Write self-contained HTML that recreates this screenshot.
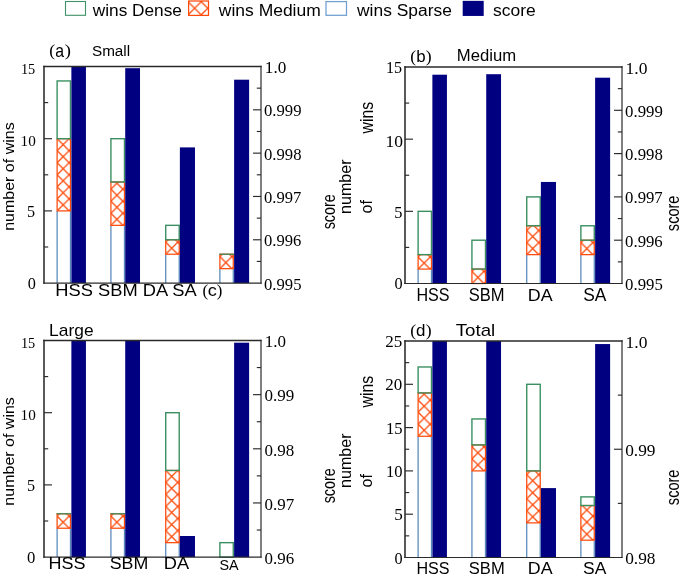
<!DOCTYPE html>
<html><head><meta charset="utf-8"><title>chart</title>
<style>html,body{margin:0;padding:0;background:#fff;}svg{display:block;will-change:transform;}</style>
</head><body>
<svg width="685" height="581" viewBox="0 0 685 581">
<rect width="685" height="581" fill="#fff"/>
<defs>
<pattern id="hx" patternUnits="userSpaceOnUse" width="12.05" height="12.05" x="0" y="0">
<path d="M0,0 L12.05,12.05 M0,12.05 L12.05,0" stroke="#ff4a0a" stroke-width="1.3" fill="none" stroke-linecap="square"/>
</pattern>
<pattern id="hx2" patternUnits="userSpaceOnUse" width="13.2" height="13.2" x="0" y="0">
<path d="M0,0 L13.2,13.2 M0,13.2 L13.2,0" stroke="#ff4a0a" stroke-width="1.3" fill="none" stroke-linecap="square"/>
</pattern>
</defs>
<rect x="65.5" y="1.5" width="20" height="13.8" fill="none" stroke="#3f9266" stroke-width="1.1"/>
<g transform="translate(188.0,14.9)"><rect x="0.6" y="-13.9" width="19.9" height="14.4" fill="url(#hx2)" stroke="#ff4a0a" stroke-width="1.25"/></g>
<rect x="326.0" y="1.6" width="20.5" height="13.7" fill="none" stroke="#6f9fd0" stroke-width="1.25"/>
<rect x="462.7" y="0.85" width="21.0" height="15.1" fill="#000080"/>
<text transform="translate(92.75,15.79) scale(1.0756,1)" font-family="'Liberation Sans', sans-serif" font-size="16.05" fill="#000">wins Dense</text>
<text transform="translate(218.85,15.79) scale(1.0892,1)" font-family="'Liberation Sans', sans-serif" font-size="16.05" fill="#000">wins Medium</text>
<text transform="translate(357.05,15.89) scale(1.0756,1)" font-family="'Liberation Sans', sans-serif" font-size="16.19" fill="#000">wins Sparse</text>
<text transform="translate(493.07,16.28) scale(1.0287,1)" font-family="'Liberation Sans', sans-serif" font-size="16.99" fill="#000">score</text>
<path d="M57.12,283.10 V210.90 M70.47,210.90 V283.10" fill="none" stroke="#5889bc" stroke-width="1.25"/>
<g transform="translate(57.12,210.90)"><rect x="0.00" y="-72.20" width="13.35" height="72.20" fill="url(#hx)" stroke="#ff4a0a" stroke-width="1.25"/></g>
<rect x="57.12" y="80.94" width="13.35" height="57.76" fill="none" stroke="#3b9062" stroke-width="1.4"/>
<rect x="71.38" y="66.50" width="14.55" height="216.60" fill="#000080"/>
<path d="M110.92,283.10 V225.34 M124.47,225.34 V283.10" fill="none" stroke="#5889bc" stroke-width="1.25"/>
<g transform="translate(110.92,225.34)"><rect x="0.00" y="-43.32" width="13.55" height="43.32" fill="url(#hx)" stroke="#ff4a0a" stroke-width="1.25"/></g>
<rect x="110.92" y="138.70" width="13.55" height="43.32" fill="none" stroke="#3b9062" stroke-width="1.4"/>
<rect x="125.22" y="68.20" width="14.80" height="214.90" fill="#000080"/>
<path d="M165.72,283.10 V254.22 M179.22,254.22 V283.10" fill="none" stroke="#5889bc" stroke-width="1.25"/>
<g transform="translate(165.72,254.22)"><rect x="0.00" y="-14.44" width="13.50" height="14.44" fill="url(#hx)" stroke="#ff4a0a" stroke-width="1.25"/></g>
<rect x="165.72" y="225.34" width="13.50" height="14.44" fill="none" stroke="#3b9062" stroke-width="1.4"/>
<rect x="179.88" y="147.40" width="15.10" height="135.70" fill="#000080"/>
<path d="M219.88,283.10 V268.66 M233.28,268.66 V283.10" fill="none" stroke="#5889bc" stroke-width="1.25"/>
<g transform="translate(219.88,268.66)"><rect x="0.00" y="-14.44" width="13.40" height="14.44" fill="url(#hx)" stroke="#ff4a0a" stroke-width="1.25"/></g>
<line x1="219.28" y1="254.22" x2="233.88" y2="254.22" stroke="#3b9062" stroke-width="1.3"/>
<rect x="234.12" y="79.70" width="15.00" height="203.40" fill="#000080"/>
<line x1="44.00" y1="65.75" x2="44.00" y2="283.70" stroke="#2a2a2a" stroke-width="1.55"/>
<line x1="43.25" y1="66.50" x2="261.60" y2="66.50" stroke="#2a2a2a" stroke-width="1.55"/>
<line x1="261.00" y1="65.75" x2="261.00" y2="283.70" stroke="#2a2a2a" stroke-width="1.2"/>
<line x1="43.25" y1="283.10" x2="261.60" y2="283.10" stroke="#2a2a2a" stroke-width="1.2"/>
<line x1="44.00" y1="210.90" x2="52.00" y2="210.90" stroke="#2a2a2a" stroke-width="1.15"/>
<line x1="44.00" y1="138.70" x2="52.00" y2="138.70" stroke="#2a2a2a" stroke-width="1.15"/>
<line x1="44.00" y1="247.00" x2="48.20" y2="247.00" stroke="#2a2a2a" stroke-width="1.15"/>
<line x1="44.00" y1="174.80" x2="48.20" y2="174.80" stroke="#2a2a2a" stroke-width="1.15"/>
<line x1="44.00" y1="102.60" x2="48.20" y2="102.60" stroke="#2a2a2a" stroke-width="1.15"/>
<line x1="253.00" y1="239.78" x2="261.00" y2="239.78" stroke="#2a2a2a" stroke-width="1.15"/>
<line x1="253.00" y1="196.46" x2="261.00" y2="196.46" stroke="#2a2a2a" stroke-width="1.15"/>
<line x1="253.00" y1="153.14" x2="261.00" y2="153.14" stroke="#2a2a2a" stroke-width="1.15"/>
<line x1="253.00" y1="109.82" x2="261.00" y2="109.82" stroke="#2a2a2a" stroke-width="1.15"/>
<line x1="256.80" y1="261.44" x2="261.00" y2="261.44" stroke="#2a2a2a" stroke-width="1.15"/>
<line x1="256.80" y1="218.12" x2="261.00" y2="218.12" stroke="#2a2a2a" stroke-width="1.15"/>
<line x1="256.80" y1="174.80" x2="261.00" y2="174.80" stroke="#2a2a2a" stroke-width="1.15"/>
<line x1="256.80" y1="131.48" x2="261.00" y2="131.48" stroke="#2a2a2a" stroke-width="1.15"/>
<line x1="256.80" y1="88.16" x2="261.00" y2="88.16" stroke="#2a2a2a" stroke-width="1.15"/>
<text transform="translate(49.36,56.30) scale(1.0266,1)" font-family="'Liberation Serif', serif" font-size="17.19" fill="#000">(</text>
<text transform="translate(55.28,56.57) scale(0.9014,1)" font-family="'Liberation Sans', sans-serif" font-size="17.53" fill="#000">a</text>
<text transform="translate(64.74,56.30) scale(1.0844,1)" font-family="'Liberation Serif', serif" font-size="17.19" fill="#000">)</text>
<text transform="translate(91.96,56.30) scale(1.0033,1)" font-family="'Liberation Sans', sans-serif" font-size="15.24" fill="#000">Small</text>
<text transform="translate(20.90,73.69) scale(0.9230,1)" font-family="'Liberation Serif', serif" font-size="15.52" fill="#000">15</text>
<text transform="translate(20.62,145.50) scale(0.9865,1)" font-family="'Liberation Serif', serif" font-size="15.41" fill="#000">10</text>
<text transform="translate(27.02,216.69) scale(0.9852,1)" font-family="'Liberation Serif', serif" font-size="16.39" fill="#000">5</text>
<text transform="translate(27.64,288.99) scale(1.0147,1)" font-family="'Liberation Serif', serif" font-size="16.00" fill="#000">0</text>
<text transform="translate(14.21,230.83) rotate(-90) scale(1.1650,1)" font-family="'Liberation Sans', sans-serif" font-size="13.74" fill="#000">number of wins</text>
<text transform="translate(264.85,73.10) scale(1.0144,1)" font-family="'Liberation Serif', serif" font-size="16.91" fill="#000">1.0</text>
<text transform="translate(264.03,116.41) scale(0.9684,1)" font-family="'Liberation Serif', serif" font-size="17.21" fill="#000">0.999</text>
<text transform="translate(264.03,159.73) scale(0.9673,1)" font-family="'Liberation Serif', serif" font-size="17.21" fill="#000">0.998</text>
<text transform="translate(264.03,203.05) scale(0.9640,1)" font-family="'Liberation Serif', serif" font-size="17.21" fill="#000">0.997</text>
<text transform="translate(264.03,246.37) scale(0.9640,1)" font-family="'Liberation Serif', serif" font-size="17.21" fill="#000">0.996</text>
<text transform="translate(264.03,289.69) scale(0.9684,1)" font-family="'Liberation Serif', serif" font-size="17.21" fill="#000">0.995</text>
<text transform="translate(334.87,229.35) rotate(-90) scale(0.7806,1)" font-family="'Liberation Sans', sans-serif" font-size="18.45" fill="#000">score</text>
<text transform="translate(55.24,295.68) scale(1.0895,1)" font-family="'Liberation Sans', sans-serif" font-size="16.82" fill="#000">HSS SBM DA SA</text>
<text transform="translate(202.49,295.87) scale(1.0002,1)" font-family="'Liberation Serif', serif" font-size="16.86" fill="#000">(</text>
<text transform="translate(207.78,295.98) scale(1.0795,1)" font-family="'Liberation Sans', sans-serif" font-size="16.80" fill="#000">c</text>
<text transform="translate(216.81,295.87) scale(0.9905,1)" font-family="'Liberation Serif', serif" font-size="16.86" fill="#000">)</text>
<path d="M418.12,283.50 V269.07 M431.48,269.07 V283.50" fill="none" stroke="#5889bc" stroke-width="1.25"/>
<g transform="translate(418.12,269.07)"><rect x="0.00" y="-14.43" width="13.35" height="14.43" fill="url(#hx)" stroke="#ff4a0a" stroke-width="1.25"/></g>
<rect x="418.12" y="211.33" width="13.35" height="43.30" fill="none" stroke="#3b9062" stroke-width="1.4"/>
<rect x="432.38" y="74.70" width="14.55" height="208.80" fill="#000080"/>
<g transform="translate(471.93,283.50)"><rect x="0.00" y="-14.43" width="13.55" height="14.43" fill="url(#hx)" stroke="#ff4a0a" stroke-width="1.25"/></g>
<rect x="471.93" y="240.20" width="13.55" height="28.87" fill="none" stroke="#3b9062" stroke-width="1.4"/>
<rect x="486.23" y="74.20" width="14.80" height="209.30" fill="#000080"/>
<path d="M526.73,283.50 V254.63 M540.23,254.63 V283.50" fill="none" stroke="#5889bc" stroke-width="1.25"/>
<g transform="translate(526.73,254.63)"><rect x="0.00" y="-28.87" width="13.50" height="28.87" fill="url(#hx)" stroke="#ff4a0a" stroke-width="1.25"/></g>
<rect x="526.73" y="196.90" width="13.50" height="28.87" fill="none" stroke="#3b9062" stroke-width="1.4"/>
<rect x="540.88" y="181.95" width="15.10" height="101.55" fill="#000080"/>
<path d="M580.88,283.50 V254.63 M594.27,254.63 V283.50" fill="none" stroke="#5889bc" stroke-width="1.25"/>
<g transform="translate(580.88,254.63)"><rect x="0.00" y="-14.43" width="13.40" height="14.43" fill="url(#hx)" stroke="#ff4a0a" stroke-width="1.25"/></g>
<rect x="580.88" y="225.77" width="13.40" height="14.43" fill="none" stroke="#3b9062" stroke-width="1.4"/>
<rect x="595.12" y="77.70" width="15.00" height="205.80" fill="#000080"/>
<line x1="405.00" y1="66.25" x2="405.00" y2="284.10" stroke="#2a2a2a" stroke-width="1.55"/>
<line x1="404.25" y1="67.00" x2="622.60" y2="67.00" stroke="#2a2a2a" stroke-width="1.55"/>
<line x1="622.00" y1="66.25" x2="622.00" y2="284.10" stroke="#2a2a2a" stroke-width="1.2"/>
<line x1="404.25" y1="283.50" x2="622.60" y2="283.50" stroke="#2a2a2a" stroke-width="1.2"/>
<line x1="405.00" y1="211.33" x2="413.00" y2="211.33" stroke="#2a2a2a" stroke-width="1.15"/>
<line x1="405.00" y1="139.17" x2="413.00" y2="139.17" stroke="#2a2a2a" stroke-width="1.15"/>
<line x1="405.00" y1="247.42" x2="409.20" y2="247.42" stroke="#2a2a2a" stroke-width="1.15"/>
<line x1="405.00" y1="175.25" x2="409.20" y2="175.25" stroke="#2a2a2a" stroke-width="1.15"/>
<line x1="405.00" y1="103.08" x2="409.20" y2="103.08" stroke="#2a2a2a" stroke-width="1.15"/>
<line x1="614.00" y1="240.20" x2="622.00" y2="240.20" stroke="#2a2a2a" stroke-width="1.15"/>
<line x1="614.00" y1="196.90" x2="622.00" y2="196.90" stroke="#2a2a2a" stroke-width="1.15"/>
<line x1="614.00" y1="153.60" x2="622.00" y2="153.60" stroke="#2a2a2a" stroke-width="1.15"/>
<line x1="614.00" y1="110.30" x2="622.00" y2="110.30" stroke="#2a2a2a" stroke-width="1.15"/>
<line x1="617.80" y1="261.85" x2="622.00" y2="261.85" stroke="#2a2a2a" stroke-width="1.15"/>
<line x1="617.80" y1="218.55" x2="622.00" y2="218.55" stroke="#2a2a2a" stroke-width="1.15"/>
<line x1="617.80" y1="175.25" x2="622.00" y2="175.25" stroke="#2a2a2a" stroke-width="1.15"/>
<line x1="617.80" y1="131.95" x2="622.00" y2="131.95" stroke="#2a2a2a" stroke-width="1.15"/>
<line x1="617.80" y1="88.65" x2="622.00" y2="88.65" stroke="#2a2a2a" stroke-width="1.15"/>
<text transform="translate(410.36,61.93) scale(1.0072,1)" font-family="'Liberation Serif', serif" font-size="17.52" fill="#000">(</text>
<text transform="translate(416.35,61.59) scale(1.0259,1)" font-family="'Liberation Sans', sans-serif" font-size="16.46" fill="#000">b</text>
<text transform="translate(425.83,61.93) scale(1.0085,1)" font-family="'Liberation Serif', serif" font-size="17.52" fill="#000">)</text>
<text transform="translate(456.87,60.99) scale(1.0228,1)" font-family="'Liberation Sans', sans-serif" font-size="16.33" fill="#000">Medium</text>
<text transform="translate(386.05,73.27) scale(0.9111,1)" font-family="'Liberation Serif', serif" font-size="17.61" fill="#000">15</text>
<text transform="translate(385.42,146.58) scale(1.0131,1)" font-family="'Liberation Serif', serif" font-size="17.26" fill="#000">10</text>
<text transform="translate(394.21,217.67) scale(0.9320,1)" font-family="'Liberation Serif', serif" font-size="17.59" fill="#000">5</text>
<text transform="translate(394.54,289.18) scale(0.9529,1)" font-family="'Liberation Serif', serif" font-size="17.04" fill="#000">0</text>
<text transform="translate(372.87,133.45) rotate(-90) scale(0.8653,1)" font-family="'Liberation Sans', sans-serif" font-size="18.23" fill="#000">wins</text>
<text transform="translate(351.28,213.94) rotate(-90) scale(0.9690,1)" font-family="'Liberation Sans', sans-serif" font-size="16.60" fill="#000">number</text>
<text transform="translate(371.99,213.53) rotate(-90) scale(0.9864,1)" font-family="'Liberation Sans', sans-serif" font-size="16.25" fill="#000">of</text>
<text transform="translate(625.62,73.50) scale(1.0445,1)" font-family="'Liberation Serif', serif" font-size="16.76" fill="#000">1.0</text>
<text transform="translate(625.12,116.69) scale(0.9849,1)" font-family="'Liberation Serif', serif" font-size="17.06" fill="#000">0.999</text>
<text transform="translate(625.12,159.99) scale(0.9837,1)" font-family="'Liberation Serif', serif" font-size="17.06" fill="#000">0.998</text>
<text transform="translate(625.12,203.29) scale(0.9804,1)" font-family="'Liberation Serif', serif" font-size="17.06" fill="#000">0.997</text>
<text transform="translate(625.12,246.59) scale(0.9804,1)" font-family="'Liberation Serif', serif" font-size="17.06" fill="#000">0.996</text>
<text transform="translate(625.12,289.89) scale(0.9849,1)" font-family="'Liberation Serif', serif" font-size="17.06" fill="#000">0.995</text>
<text transform="translate(678.87,231.15) rotate(-90) scale(0.8181,1)" font-family="'Liberation Sans', sans-serif" font-size="17.81" fill="#000">score</text>
<text transform="translate(416.42,300.67) scale(0.9206,1)" font-family="'Liberation Sans', sans-serif" font-size="17.53" fill="#000">HSS</text>
<text transform="translate(468.80,300.67) scale(0.9453,1)" font-family="'Liberation Sans', sans-serif" font-size="17.53" fill="#000">SBM</text>
<text transform="translate(527.78,300.65) scale(1.0402,1)" font-family="'Liberation Sans', sans-serif" font-size="17.16" fill="#000">DA</text>
<text transform="translate(583.17,300.67) scale(0.9927,1)" font-family="'Liberation Sans', sans-serif" font-size="17.53" fill="#000">SA</text>
<path d="M57.12,557.10 V528.22 M70.47,528.22 V557.10" fill="none" stroke="#5889bc" stroke-width="1.25"/>
<g transform="translate(57.12,528.22)"><rect x="0.00" y="-14.44" width="13.35" height="14.44" fill="url(#hx)" stroke="#ff4a0a" stroke-width="1.25"/></g>
<line x1="56.52" y1="513.78" x2="71.07" y2="513.78" stroke="#3b9062" stroke-width="1.3"/>
<rect x="71.38" y="340.50" width="14.55" height="216.60" fill="#000080"/>
<path d="M110.92,557.10 V528.22 M124.47,528.22 V557.10" fill="none" stroke="#5889bc" stroke-width="1.25"/>
<g transform="translate(110.92,528.22)"><rect x="0.00" y="-14.44" width="13.55" height="14.44" fill="url(#hx)" stroke="#ff4a0a" stroke-width="1.25"/></g>
<line x1="110.33" y1="513.78" x2="125.07" y2="513.78" stroke="#3b9062" stroke-width="1.3"/>
<rect x="125.22" y="340.50" width="14.80" height="216.60" fill="#000080"/>
<path d="M165.72,557.10 V542.66 M179.22,542.66 V557.10" fill="none" stroke="#5889bc" stroke-width="1.25"/>
<g transform="translate(165.72,542.66)"><rect x="0.00" y="-72.20" width="13.50" height="72.20" fill="url(#hx)" stroke="#ff4a0a" stroke-width="1.25"/></g>
<rect x="165.72" y="412.70" width="13.50" height="57.76" fill="none" stroke="#3b9062" stroke-width="1.4"/>
<rect x="179.88" y="536.00" width="15.10" height="21.10" fill="#000080"/>
<rect x="219.88" y="542.66" width="13.40" height="14.44" fill="none" stroke="#3b9062" stroke-width="1.4"/>
<rect x="234.12" y="342.70" width="15.00" height="214.40" fill="#000080"/>
<line x1="44.00" y1="339.75" x2="44.00" y2="557.70" stroke="#2a2a2a" stroke-width="1.55"/>
<line x1="43.25" y1="340.50" x2="261.60" y2="340.50" stroke="#2a2a2a" stroke-width="1.55"/>
<line x1="261.00" y1="339.75" x2="261.00" y2="557.70" stroke="#2a2a2a" stroke-width="1.2"/>
<line x1="43.25" y1="557.10" x2="261.60" y2="557.10" stroke="#2a2a2a" stroke-width="1.2"/>
<line x1="44.00" y1="484.90" x2="52.00" y2="484.90" stroke="#2a2a2a" stroke-width="1.15"/>
<line x1="44.00" y1="412.70" x2="52.00" y2="412.70" stroke="#2a2a2a" stroke-width="1.15"/>
<line x1="44.00" y1="521.00" x2="48.20" y2="521.00" stroke="#2a2a2a" stroke-width="1.15"/>
<line x1="44.00" y1="448.80" x2="48.20" y2="448.80" stroke="#2a2a2a" stroke-width="1.15"/>
<line x1="44.00" y1="376.60" x2="48.20" y2="376.60" stroke="#2a2a2a" stroke-width="1.15"/>
<line x1="253.00" y1="502.95" x2="261.00" y2="502.95" stroke="#2a2a2a" stroke-width="1.15"/>
<line x1="253.00" y1="448.80" x2="261.00" y2="448.80" stroke="#2a2a2a" stroke-width="1.15"/>
<line x1="253.00" y1="394.65" x2="261.00" y2="394.65" stroke="#2a2a2a" stroke-width="1.15"/>
<line x1="256.80" y1="530.02" x2="261.00" y2="530.02" stroke="#2a2a2a" stroke-width="1.15"/>
<line x1="256.80" y1="475.88" x2="261.00" y2="475.88" stroke="#2a2a2a" stroke-width="1.15"/>
<line x1="256.80" y1="421.73" x2="261.00" y2="421.73" stroke="#2a2a2a" stroke-width="1.15"/>
<line x1="256.80" y1="367.57" x2="261.00" y2="367.57" stroke="#2a2a2a" stroke-width="1.15"/>
<text transform="translate(49.12,336.43) scale(0.9977,1)" font-family="'Liberation Sans', sans-serif" font-size="17.43" fill="#000">Large</text>
<text transform="translate(20.90,347.69) scale(0.9230,1)" font-family="'Liberation Serif', serif" font-size="15.52" fill="#000">15</text>
<text transform="translate(20.62,419.50) scale(0.9865,1)" font-family="'Liberation Serif', serif" font-size="15.41" fill="#000">10</text>
<text transform="translate(27.02,490.69) scale(0.9852,1)" font-family="'Liberation Serif', serif" font-size="16.39" fill="#000">5</text>
<text transform="translate(27.02,563.08) scale(0.9806,1)" font-family="'Liberation Serif', serif" font-size="17.04" fill="#000">0</text>
<text transform="translate(14.21,505.63) rotate(-90) scale(1.1650,1)" font-family="'Liberation Sans', sans-serif" font-size="13.74" fill="#000">number of wins</text>
<text transform="translate(264.76,347.30) scale(1.0217,1)" font-family="'Liberation Serif', serif" font-size="16.62" fill="#000">1.0</text>
<text transform="translate(264.51,401.44) scale(0.9989,1)" font-family="'Liberation Serif', serif" font-size="17.06" fill="#000">0.99</text>
<text transform="translate(264.51,455.59) scale(0.9974,1)" font-family="'Liberation Serif', serif" font-size="17.06" fill="#000">0.98</text>
<text transform="translate(264.51,509.74) scale(0.9930,1)" font-family="'Liberation Serif', serif" font-size="17.06" fill="#000">0.97</text>
<text transform="translate(264.51,563.89) scale(0.9930,1)" font-family="'Liberation Serif', serif" font-size="17.06" fill="#000">0.96</text>
<text transform="translate(334.87,503.35) rotate(-90) scale(0.7806,1)" font-family="'Liberation Sans', sans-serif" font-size="18.45" fill="#000">score</text>
<text transform="translate(48.46,569.38) scale(1.0440,1)" font-family="'Liberation Sans', sans-serif" font-size="17.24" fill="#000">HSS</text>
<text transform="translate(109.65,569.38) scale(1.0348,1)" font-family="'Liberation Sans', sans-serif" font-size="17.24" fill="#000">SBM</text>
<text transform="translate(163.75,569.35) scale(1.0626,1)" font-family="'Liberation Sans', sans-serif" font-size="17.16" fill="#000">DA</text>
<text transform="translate(219.50,569.61) scale(1.0065,1)" font-family="'Liberation Sans', sans-serif" font-size="14.28" fill="#000">SA</text>
<path d="M418.12,557.50 V436.26 M431.48,436.26 V557.50" fill="none" stroke="#5889bc" stroke-width="1.25"/>
<g transform="translate(418.12,436.26)"><rect x="0.00" y="-43.30" width="13.35" height="43.30" fill="url(#hx)" stroke="#ff4a0a" stroke-width="1.25"/></g>
<rect x="418.12" y="366.98" width="13.35" height="25.98" fill="none" stroke="#3b9062" stroke-width="1.4"/>
<rect x="432.38" y="341.00" width="14.55" height="216.50" fill="#000080"/>
<path d="M471.93,557.50 V470.90 M485.48,470.90 V557.50" fill="none" stroke="#5889bc" stroke-width="1.25"/>
<g transform="translate(471.93,470.90)"><rect x="0.00" y="-25.98" width="13.55" height="25.98" fill="url(#hx)" stroke="#ff4a0a" stroke-width="1.25"/></g>
<rect x="471.93" y="418.94" width="13.55" height="25.98" fill="none" stroke="#3b9062" stroke-width="1.4"/>
<rect x="486.23" y="341.00" width="14.80" height="216.50" fill="#000080"/>
<path d="M526.73,557.50 V522.86 M540.23,522.86 V557.50" fill="none" stroke="#5889bc" stroke-width="1.25"/>
<g transform="translate(526.73,522.86)"><rect x="0.00" y="-51.96" width="13.50" height="51.96" fill="url(#hx)" stroke="#ff4a0a" stroke-width="1.25"/></g>
<rect x="526.73" y="384.30" width="13.50" height="86.60" fill="none" stroke="#3b9062" stroke-width="1.4"/>
<rect x="540.88" y="488.10" width="15.10" height="69.40" fill="#000080"/>
<path d="M580.88,557.50 V540.18 M594.27,540.18 V557.50" fill="none" stroke="#5889bc" stroke-width="1.25"/>
<g transform="translate(580.88,540.18)"><rect x="0.00" y="-34.64" width="13.40" height="34.64" fill="url(#hx)" stroke="#ff4a0a" stroke-width="1.25"/></g>
<rect x="580.88" y="496.88" width="13.40" height="8.66" fill="none" stroke="#3b9062" stroke-width="1.4"/>
<rect x="595.12" y="344.05" width="15.00" height="213.45" fill="#000080"/>
<line x1="405.00" y1="340.25" x2="405.00" y2="558.10" stroke="#2a2a2a" stroke-width="1.55"/>
<line x1="404.25" y1="341.00" x2="622.60" y2="341.00" stroke="#2a2a2a" stroke-width="1.55"/>
<line x1="622.00" y1="340.25" x2="622.00" y2="558.10" stroke="#2a2a2a" stroke-width="1.2"/>
<line x1="404.25" y1="557.50" x2="622.60" y2="557.50" stroke="#2a2a2a" stroke-width="1.2"/>
<line x1="405.00" y1="514.20" x2="413.00" y2="514.20" stroke="#2a2a2a" stroke-width="1.15"/>
<line x1="405.00" y1="470.90" x2="413.00" y2="470.90" stroke="#2a2a2a" stroke-width="1.15"/>
<line x1="405.00" y1="427.60" x2="413.00" y2="427.60" stroke="#2a2a2a" stroke-width="1.15"/>
<line x1="405.00" y1="384.30" x2="413.00" y2="384.30" stroke="#2a2a2a" stroke-width="1.15"/>
<line x1="405.00" y1="535.85" x2="409.20" y2="535.85" stroke="#2a2a2a" stroke-width="1.15"/>
<line x1="405.00" y1="492.55" x2="409.20" y2="492.55" stroke="#2a2a2a" stroke-width="1.15"/>
<line x1="405.00" y1="449.25" x2="409.20" y2="449.25" stroke="#2a2a2a" stroke-width="1.15"/>
<line x1="405.00" y1="405.95" x2="409.20" y2="405.95" stroke="#2a2a2a" stroke-width="1.15"/>
<line x1="405.00" y1="362.65" x2="409.20" y2="362.65" stroke="#2a2a2a" stroke-width="1.15"/>
<line x1="614.00" y1="449.25" x2="622.00" y2="449.25" stroke="#2a2a2a" stroke-width="1.15"/>
<line x1="617.80" y1="503.38" x2="622.00" y2="503.38" stroke="#2a2a2a" stroke-width="1.15"/>
<line x1="617.80" y1="395.12" x2="622.00" y2="395.12" stroke="#2a2a2a" stroke-width="1.15"/>
<text transform="translate(410.36,335.93) scale(1.0072,1)" font-family="'Liberation Serif', serif" font-size="17.52" fill="#000">(</text>
<text transform="translate(416.08,335.59) scale(1.0326,1)" font-family="'Liberation Sans', sans-serif" font-size="16.46" fill="#000">d</text>
<text transform="translate(425.83,335.93) scale(1.0085,1)" font-family="'Liberation Serif', serif" font-size="17.52" fill="#000">)</text>
<text transform="translate(455.73,335.58) scale(1.1198,1)" font-family="'Liberation Sans', sans-serif" font-size="16.73" fill="#000">Total</text>
<text transform="translate(385.28,347.17) scale(0.9717,1)" font-family="'Liberation Serif', serif" font-size="17.55" fill="#000">25</text>
<text transform="translate(385.28,390.48) scale(0.9726,1)" font-family="'Liberation Serif', serif" font-size="17.48" fill="#000">20</text>
<text transform="translate(385.90,433.77) scale(0.9436,1)" font-family="'Liberation Serif', serif" font-size="17.61" fill="#000">15</text>
<text transform="translate(385.90,477.08) scale(0.9479,1)" font-family="'Liberation Serif', serif" font-size="17.48" fill="#000">10</text>
<text transform="translate(394.16,520.28) scale(0.9828,1)" font-family="'Liberation Serif', serif" font-size="17.44" fill="#000">5</text>
<text transform="translate(394.54,563.58) scale(0.9447,1)" font-family="'Liberation Serif', serif" font-size="17.19" fill="#000">0</text>
<text transform="translate(372.87,407.45) rotate(-90) scale(0.8653,1)" font-family="'Liberation Sans', sans-serif" font-size="18.23" fill="#000">wins</text>
<text transform="translate(351.28,487.94) rotate(-90) scale(0.9690,1)" font-family="'Liberation Sans', sans-serif" font-size="16.60" fill="#000">number</text>
<text transform="translate(371.99,487.53) rotate(-90) scale(0.9864,1)" font-family="'Liberation Sans', sans-serif" font-size="16.25" fill="#000">of</text>
<text transform="translate(625.62,347.50) scale(1.0445,1)" font-family="'Liberation Serif', serif" font-size="16.76" fill="#000">1.0</text>
<text transform="translate(625.20,455.54) scale(0.9992,1)" font-family="'Liberation Serif', serif" font-size="17.35" fill="#000">0.99</text>
<text transform="translate(625.20,563.79) scale(0.9977,1)" font-family="'Liberation Serif', serif" font-size="17.35" fill="#000">0.98</text>
<text transform="translate(678.87,505.15) rotate(-90) scale(0.8181,1)" font-family="'Liberation Sans', sans-serif" font-size="17.81" fill="#000">score</text>
<text transform="translate(416.42,574.38) scale(0.9593,1)" font-family="'Liberation Sans', sans-serif" font-size="16.82" fill="#000">HSS</text>
<text transform="translate(468.80,574.38) scale(0.9851,1)" font-family="'Liberation Sans', sans-serif" font-size="16.82" fill="#000">SBM</text>
<text transform="translate(527.78,574.35) scale(1.0491,1)" font-family="'Liberation Sans', sans-serif" font-size="17.02" fill="#000">DA</text>
<text transform="translate(583.06,574.38) scale(1.0390,1)" font-family="'Liberation Sans', sans-serif" font-size="16.82" fill="#000">SA</text>
</svg>
</body></html>
